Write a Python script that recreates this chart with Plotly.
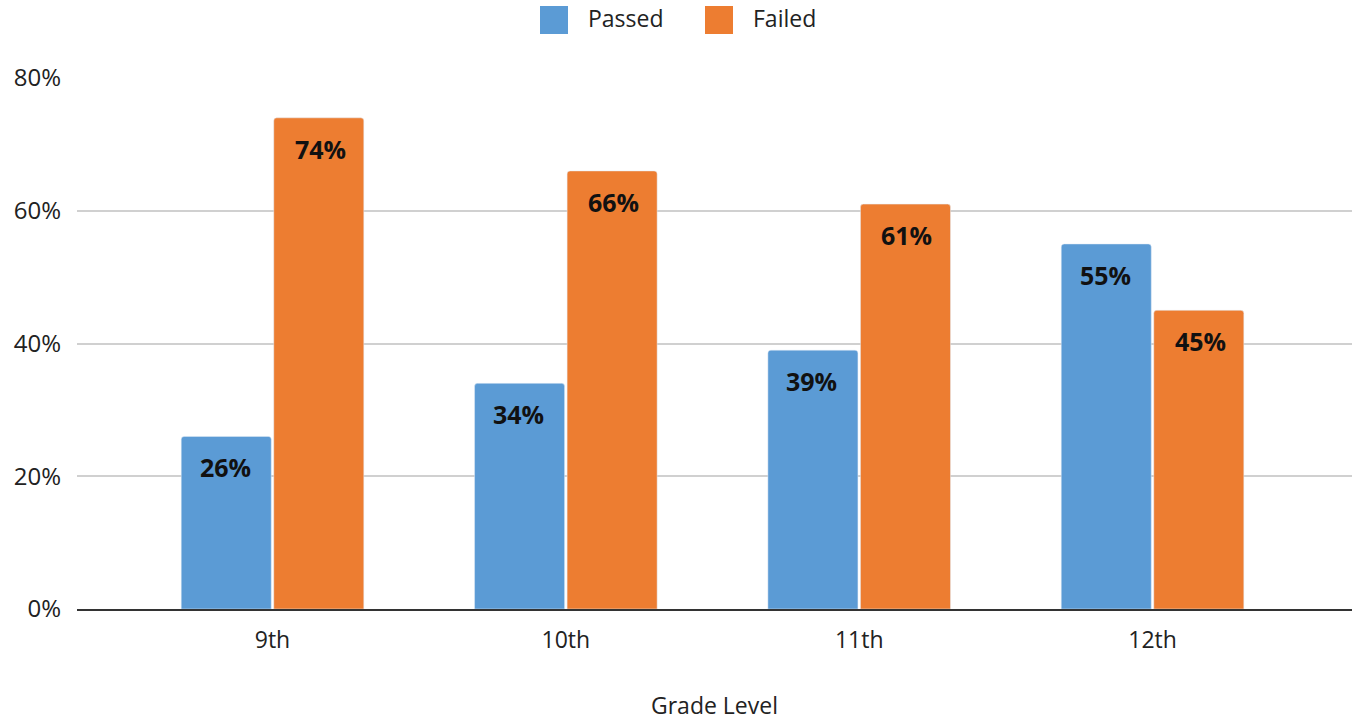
import plotly.graph_objects as go

grades = ["9th", "10th", "11th", "12th"]
passed = [26, 34, 39, 55]
failed = [74, 66, 61, 45]
y_ticks = [0, 20, 40, 60, 80]
y_tick_labels = ["0%", "20%", "40%", "60%", "80%"]

BLUE = "#5B9BD5"
ORANGE = "#ED7D31"
FONT = "Open Sans"

W, H = 1354, 721
ML, MR, MT, MB = 77, 2, 78, 112
PW, PH = W - ML - MR, H - MT - MB


def px_x(px):
    """Page pixel column -> paper x."""
    return (px - ML) / PW


def px_y(py):
    """Page pixel row (from top) -> paper y."""
    return (H - MB - py) / PH


fig = go.Figure()
fig.add_trace(go.Bar(name="Passed", x=grades, y=passed,
                     marker=dict(color=BLUE, cornerradius=3)))
fig.add_trace(go.Bar(name="Failed", x=grades, y=failed,
                     marker=dict(color=ORANGE, cornerradius=3)))

# value labels inside the top of each bar
for vals, shift in ((passed, -47.5), (failed, 47.5)):
    for g, v in zip(grades, vals):
        fig.add_annotation(x=g, y=v, text=f"{v}%", showarrow=False,
                           xshift=shift, yshift=-31, yanchor="middle",
                           font=dict(family=FONT, size=25, color="#111111",
                                     weight="bold"))

# legend with large square swatches
legend_items = [("Passed", BLUE, 540), ("Failed", ORANGE, 705)]
for name, color, left in legend_items:
    fig.add_shape(type="rect", xref="paper", yref="paper",
                  x0=px_x(left), x1=px_x(left + 28),
                  y0=px_y(34), y1=px_y(6),
                  fillcolor=color, line=dict(width=0), layer="above")
    fig.add_annotation(xref="paper", yref="paper",
                       x=px_x(left + 46), y=px_y(18),
                       xanchor="left", yanchor="middle", showarrow=False,
                       text=name, font=dict(family=FONT, size=23,
                                            color="#222222"))

fig.update_layout(
    width=W, height=H,
    margin=dict(l=ML, r=MR, t=MT, b=MB),
    paper_bgcolor="white", plot_bgcolor="white",
    font=dict(family=FONT, size=23, color="#222222"),
    barmode="group", bargap=0.369, bargroupgap=0.027,
    showlegend=False,
)
fig.update_xaxes(range=[-0.6665, 3.68], showgrid=False, showline=True,
                 linecolor="#333333", linewidth=2, ticks="",
                 ticklabelstandoff=9,
                 title=dict(text="Grade Level", standoff=46,
                            font=dict(size=23)))
fig.update_yaxes(range=[0, 80], tickvals=y_ticks, ticktext=y_tick_labels,
                 showgrid=True, gridcolor="#D0D0D0", gridwidth=2,
                 zeroline=False, showline=False, ticks="",
                 ticklabelstandoff=15, tickfont=dict(size=24))

fig.write_html("out.html")
